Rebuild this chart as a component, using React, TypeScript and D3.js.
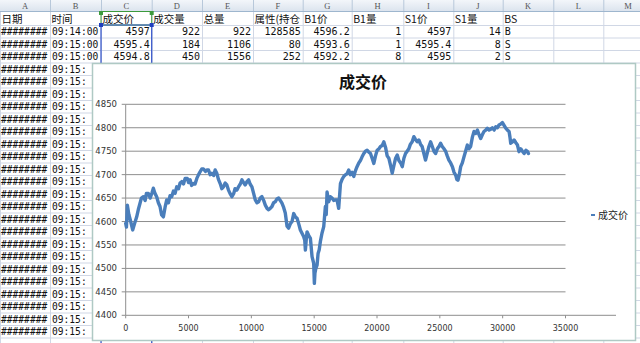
import React from "react";
import * as d3 from "d3";

// ---- spreadsheet content ----
const columnLetters = ["A", "B", "C", "D", "E", "F", "G", "H", "I", "J", "K", "L", "M"];
const headerRow = ["日期", "时间", "成交价", "成交量", "总量", "属性(持仓", "B1价", "B1量", "S1价", "S1量", "BS"];
const dataRows = [
  ["########", "09:14:00", "4597", "922", "922", "128585", "4596.2", "1", "4597", "14", "B"],
  ["########", "09:15:00", "4595.4", "184", "1106", "80", "4593.6", "1", "4595.4", "8", "S"],
  ["########", "09:15:00", "4594.8", "450", "1556", "252", "4592.2", "8", "4595", "2", "S"],
];
const hiddenRowA = "########";
const hiddenRowB = "09:15:";

// ---- chart content ----
const chartTitle = "成交价";
const seriesName = "成交价";
const yTicks = [4400, 4450, 4500, 4550, 4600, 4650, 4700, 4750, 4800, 4850];
const xTicks = [0, 5000, 10000, 15000, 20000, 25000, 30000, 35000];

const tickIndex = [
  0, 60, 130, 250, 400, 555, 700, 875, 1000, 1140, 1250, 1405, 1550, 1650, 1800, 1950, 2100, 2200, 2330, 2465,
  2600, 2730, 2860, 3000, 3130, 3265, 3400, 3530, 3660, 3800, 3930, 4060, 4200, 4330, 4460, 4600, 4730, 4900, 5000, 5125,
  5250, 5390, 5520, 5660, 5800, 5920, 6050, 6190, 6350, 6460, 6590, 6720, 6855, 7000, 7120, 7250, 7380, 7520, 7650, 7780,
  7920, 8050, 8180, 8300, 8450, 8600, 8700, 8850, 9000, 9120, 9250, 9380, 9510, 9650, 9780, 9900, 10045, 10180, 10310, 10450,
  10575, 10700, 10840, 10980, 11110, 11250, 11370, 11500, 11640, 11770, 11900, 12030, 12170, 12300, 12435, 12570, 12700, 12840, 12965, 13100,
  13235, 13370, 13500, 13635, 13770, 13900, 14030, 14160, 14250, 14300, 14380, 14430, 14570, 14700, 14830, 14960, 15015, 15060, 15130, 15230,
  15310, 15400, 15490, 15620, 15760, 15890, 15960, 16025, 16155, 16290, 16420, 16560, 16690, 16820, 16950, 17090, 17220, 17350, 17500, 17620,
  17750, 17880, 18020, 18150, 18280, 18410, 18550, 18680, 18810, 18950, 19080, 19210, 19350, 19480, 19610, 19745, 19880, 20010, 20150, 20280,
  20410, 20540, 20680, 20810, 20940, 21075, 21210, 21350, 21480, 21610, 21740, 21880, 22010, 22140, 22270, 22400, 22530, 22660, 22800, 22930,
  23060, 23200, 23330, 23460, 23590, 23730, 23860, 23990, 24130, 24265, 24400, 24530, 24660, 24800, 24930, 25060, 25190, 25330, 25460, 25590,
  25720, 25860, 26000, 26130, 26260, 26350, 26440, 26550, 26660, 26790, 26920, 27050, 27190, 27320, 27450, 27590, 27720, 27850, 27990, 28120,
  28250, 28380, 28510, 28650, 28780, 28920, 29050, 29180, 29320, 29450, 29580, 29710, 29850, 29980, 30110, 30245, 30380, 30510, 30580, 30640,
  30780, 30910, 31050, 31180, 31300, 31440, 31570, 31710, 31850, 31980, 32050,
];
const price = [
  4596, 4588, 4635, 4615, 4600, 4582, 4595, 4610, 4625, 4639, 4650, 4653, 4645, 4660, 4660, 4650, 4662, 4671, 4660, 4653,
  4640, 4632, 4614, 4610, 4630, 4646, 4640, 4655, 4653, 4665, 4660, 4674, 4670, 4682, 4685, 4680, 4692, 4692, 4683, 4689,
  4677, 4681, 4680, 4692, 4700, 4706, 4712, 4712, 4707, 4710, 4710, 4700, 4703, 4698, 4710, 4703, 4690, 4681, 4670, 4674,
  4682, 4678, 4667, 4660, 4653, 4660, 4670, 4667, 4675, 4680, 4689, 4683, 4678, 4685, 4689, 4680, 4674, 4660, 4646, 4640,
  4642, 4650, 4653, 4645, 4635, 4628, 4625, 4628, 4632, 4640, 4642, 4648, 4650, 4645, 4639, 4630, 4618, 4590, 4586, 4595,
  4600, 4617, 4610, 4607, 4595, 4582, 4575, 4568, 4560, 4539, 4565, 4578, 4570, 4564, 4525, 4511, 4468, 4490, 4500, 4507,
  4532, 4540, 4557, 4575, 4589, 4632, 4615, 4663, 4642, 4653, 4650, 4645, 4646, 4646, 4628, 4681, 4690, 4696, 4700, 4702,
  4710, 4700, 4705, 4696, 4708, 4717, 4725, 4730, 4738, 4745, 4750, 4752, 4748, 4745, 4735, 4724, 4740, 4752, 4755, 4760,
  4762, 4770, 4758, 4740, 4735, 4720, 4703, 4720, 4735, 4742, 4730, 4725, 4717, 4735, 4745, 4750, 4755, 4765, 4770, 4781,
  4775, 4770, 4774, 4765, 4760, 4745, 4731, 4745, 4760, 4770, 4760, 4750, 4745, 4755, 4760, 4767, 4760, 4755, 4750, 4740,
  4731, 4725, 4717, 4705, 4699, 4690, 4688, 4700, 4717, 4725, 4738, 4750, 4763, 4755, 4760, 4780, 4792, 4788, 4795, 4785,
  4777, 4785, 4792, 4795, 4799, 4795, 4797, 4800, 4795, 4802, 4800, 4806, 4808, 4811, 4805, 4799, 4795, 4792, 4780, 4767,
  4770, 4774, 4768, 4763, 4749, 4755, 4750, 4745, 4752, 4749, 4745,
];

const colEdges = [0, 50, 101, 151.7, 202, 253, 302.7, 351.7, 403.3, 453.3, 502.7, 553.3, 603.3, 653];
const numericCols = new Set([2, 3, 4, 5, 6, 7, 8, 9]);

export default function App() {
  const W = 640, H = 343;
  const headerH = 11;
  const row1Bottom = 25;
  const rowH = 12.5;
  const chartLeft = 92;
  const rowBounds: number[] = [headerH, row1Bottom];
  for (let y = row1Bottom + rowH; y <= H; y += rowH) rowBounds.push(y);

  const x = d3.scaleLinear().domain([0, 35000]).range([125.7, 565.5]);
  const y = d3.scaleLinear().domain([4400, 4850]).range([315.3, 104.3]);
  const line = d3.line<number>().x((_, i) => x(tickIndex[i])).y((d) => y(d));
  const path = line(price) || "";

  const cjkFont = "'Noto Sans CJK SC', sans-serif";
  const monoFont = "'DejaVu Sans Mono', 'Liberation Mono', monospace";
  const axisFont = "'DejaVu Sans', sans-serif";

  const nDataRows = rowBounds.length - 2;

  return (
    <svg width={W} height={H} style={{ position: "absolute", left: 0, top: 0, background: "#fff" }}>
      <defs>
        <linearGradient id="hdr" x1="0" y1="0" x2="0" y2="1">
          <stop offset="0" stopColor="#F3F6FA" />
          <stop offset="1" stopColor="#DCE4EE" />
        </linearGradient>
        {colEdges.slice(0, -1).map((cx, i) => (
          <clipPath id={"col" + i} key={"cp" + i}>
            <rect x={cx} y={0} width={colEdges[i + 1] - cx} height={H} />
          </clipPath>
        ))}
      </defs>
      <rect x={0} y={0} width={W} height={H} fill="#fff" />
      {/* grid */}
      {colEdges.map((cx, i) => (
        <line key={"vc" + i} x1={cx + 0.5} x2={cx + 0.5} y1={headerH} y2={H} stroke="#D0D7E5" />
      ))}
      {rowBounds.map((ry, i) => (
        <line key={"hr" + i} x1={0} x2={W} y1={ry + 0.5} y2={ry + 0.5} stroke="#D0D7E5" />
      ))}
      {/* column header */}
      <rect x={0} y={0} width={W} height={headerH} fill="url(#hdr)" />
      <line x1={0} x2={W} y1={headerH + 0.5} y2={headerH + 0.5} stroke="#9EB6CE" />
      {colEdges.slice(1).map((cx, i) => (
        <line key={"hc" + i} x1={cx + 0.5} x2={cx + 0.5} y1={0} y2={headerH} stroke="#B8C8DA" />
      ))}
      {columnLetters.map((c, i) => (
        <text key={"cl" + i} x={(colEdges[i] + colEdges[i + 1]) / 2} y={8.5} fontSize={8.5} textAnchor="middle"
          fontFamily="'Liberation Serif', serif" fill="#555">{c}</text>
      ))}
      {/* row 1 header text */}
      {headerRow.map((t, i) => (
        <text key={"h1" + i} x={colEdges[i] + 1.5} y={22.5} fontSize={10.5} fontFamily={cjkFont} fill="#111"
          clipPath={`url(#col${i})`}>{t}</text>
      ))}
      {/* data rows */}
      {dataRows.map((row, r) =>
        row.map((t, c) => {
          const base = rowBounds[1 + r] + 10;
          const right = numericCols.has(c);
          const xPos = right ? colEdges[c + 1] - 2 : colEdges[c] + (c === 0 ? 1 : 2);
          return (
            <text key={"d" + r + "_" + c} x={xPos} y={base} fontSize={c <= 1 ? 9.6 : 10}
              fontFamily={monoFont} fill="#111" textAnchor={right ? "end" : "start"}>{t}</text>
          );
        })
      )}
      {Array.from({ length: nDataRows - 3 }, (_, k) => {
        const base = rowBounds[4 + k] + 10;
        return (
          <g key={"hr_" + k}>
            <text x={1} y={base} fontSize={9.6} fontFamily={monoFont} fill="#111">{hiddenRowA}</text>
            <text x={52} y={base} fontSize={9.6} fontFamily={monoFont} fill="#111">{hiddenRowB}</text>
          </g>
        );
      })}
      {/* selection around C */}
      <rect x={101} y={11.5} width={50.7} height={13.5} fill="none" stroke="#3C9A3C" strokeWidth={1} />
      <line x1={101} x2={101} y1={25} y2={H} stroke="#3050C8" strokeWidth={1.2} />
      <line x1={151.7} x2={151.7} y1={25} y2={H} stroke="#3050C8" strokeWidth={1.2} />
      <line x1={101} x2={151.7} y1={25} y2={25} stroke="#3050C8" strokeWidth={1.2} />
      <rect x={99} y={11} width={4} height={4} fill="#3C9A3C" />
      <rect x={149.7} y={11} width={4} height={4} fill="#3C9A3C" />
      <rect x={99} y={23} width={4} height={4} fill="#2040C0" />
      <rect x={149.7} y={23} width={4} height={4} fill="#2040C0" />

      {/* chart */}
      <rect x={chartLeft + 0.5} y={63.5} width={543} height={277} fill="#fff" stroke="#AFC9C4" strokeWidth={1.5} />
      <text x={363} y={88} fontSize={16} fontWeight="bold" textAnchor="middle" fontFamily={cjkFont} fill="#111">{chartTitle}</text>
      {yTicks.slice(1).map((v) => (
        <line key={"g" + v} x1={x(0)} x2={x(35000)} y1={y(v)} y2={y(v)} stroke="#8E8E8E" strokeWidth={1} />
      ))}
      <line x1={x(0)} x2={x(0)} y1={y(4850)} y2={y(4400)} stroke="#8E8E8E" />
      <line x1={x(0)} x2={616} y1={y(4400)} y2={y(4400)} stroke="#8E8E8E" />
      {yTicks.map((v) => (
        <g key={"yt" + v}>
          <line x1={x(0) - 4} x2={x(0)} y1={y(v)} y2={y(v)} stroke="#8E8E8E" />
          <text x={117} y={y(v) + 3} fontSize={8.5} textAnchor="end" fontFamily={axisFont} fill="#333">{v}</text>
        </g>
      ))}
      {xTicks.map((v) => (
        <g key={"xt" + v}>
          <line x1={x(v)} x2={x(v)} y1={y(4400)} y2={y(4400) + 3} stroke="#8E8E8E" />
          <text x={x(v)} y={331} fontSize={8} textAnchor="middle" fontFamily={axisFont} fill="#333">{v}</text>
        </g>
      ))}
      <path d={path} fill="none" stroke="#4A7EBB" strokeWidth={3.4} strokeLinejoin="round" strokeLinecap="round" />
      <line x1={591} x2={595} y1={215} y2={215} stroke="#4A7EBB" strokeWidth={2} />
      <text x={598} y={218.5} fontSize={10} fontFamily={cjkFont} fill="#222">{seriesName}</text>
    </svg>
  );
}
